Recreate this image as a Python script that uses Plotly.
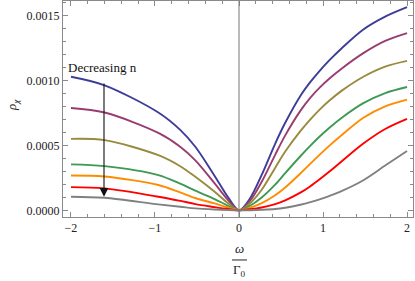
import plotly.graph_objects as go

# omega / Gamma_0 sample positions
omega = [-2, -1.6, -0.96, -0.7, -0.52, -0.29, -0.13, 0, 0.13, 0.27, 0.43, 0.55,
         0.73, 0.85, 0.96, 1.08, 1.22, 1.48, 1.74, 2]

# rho_chi (units of 1e-3) for each curve, top to bottom
blue   = [1.030, 0.964, 0.754, 0.620, 0.490, 0.265, 0.100, 0, 0.091, 0.273, 0.513, 0.675,
          0.882, 0.990, 1.076, 1.160, 1.248, 1.394, 1.493, 1.566]
purple = [0.789, 0.754, 0.597, 0.490, 0.385, 0.208, 0.079, 0, 0.072, 0.220, 0.428, 0.578,
          0.767, 0.869, 0.946, 1.018, 1.092, 1.212, 1.306, 1.366]
olive  = [0.551, 0.541, 0.425, 0.340, 0.258, 0.143, 0.054, 0, 0.054, 0.159, 0.327, 0.453,
          0.610, 0.701, 0.776, 0.848, 0.921, 1.030, 1.108, 1.152]
green  = [0.354, 0.341, 0.272, 0.205, 0.151, 0.087, 0.035, 0, 0.035, 0.099, 0.198, 0.287,
          0.417, 0.499, 0.569, 0.639, 0.712, 0.826, 0.904, 0.951]
orange = [0.269, 0.261, 0.195, 0.138, 0.095, 0.053, 0.022, 0, 0.020, 0.055, 0.116, 0.176,
          0.284, 0.360, 0.429, 0.501, 0.579, 0.714, 0.802, 0.854]
red    = [0.179, 0.169, 0.105, 0.073, 0.048, 0.025, 0.010, 0, 0.008, 0.022, 0.048, 0.077,
          0.136, 0.186, 0.239, 0.301, 0.377, 0.515, 0.627, 0.705]
gray   = [0.105, 0.097, 0.046, 0.028, 0.015, 0.006, 0.002, 0, 0.001, 0.004, 0.010, 0.020,
          0.043, 0.063, 0.085, 0.112, 0.148, 0.232, 0.345, 0.458]

series = [blue, purple, olive, green, orange, red, gray]
colors = ["#3D3D99", "#993D71", "#998B3D", "#3D9954", "#FF8C00", "#FF0000", "#808080"]

y_ticks = [0.0, 0.0005, 0.0010, 0.0015]
y_tick_labels = ["0.0000", "0.0005", "0.0010", "0.0015"]
x_ticks = [-2, -1, 0, 1, 2]
x_tick_labels = ["\u22122", "\u22121", "0", "1", "2"]

SERIF = 'Liberation Serif, "Times New Roman", Times, serif'

fig = go.Figure()
for s, c in zip(series, colors):
    fig.add_trace(go.Scatter(
        x=omega, y=[v * 1e-3 for v in s], mode="lines",
        line=dict(color=c, width=1.9, shape="spline", smoothing=0.9),
        showlegend=False, hoverinfo="skip"))

frame = "#8a8a8a"
font = dict(family=SERIF, size=12, color="#222")

fig.update_layout(
    width=415, height=281,
    margin=dict(l=63, r=2, t=1, b=64),
    paper_bgcolor="white", plot_bgcolor="white",
    font=font,
    xaxis=dict(range=[-2.095, 2.071], tickvals=x_ticks, ticktext=x_tick_labels,
               ticks="inside", ticklen=5, tickcolor=frame, tickwidth=1,
               showline=True, linecolor=frame, linewidth=1, mirror="ticks",
               showgrid=False, zeroline=False, automargin=False,
               minor=dict(dtick=0.2, tick0=0, ticks="inside", ticklen=3,
                          tickcolor=frame, showgrid=False)),
    yaxis=dict(range=[-0.0000515, 0.001614], tickvals=y_ticks, ticktext=y_tick_labels,
               ticks="inside", ticklen=5, tickcolor=frame, tickwidth=1,
               showline=True, linecolor=frame, linewidth=1, mirror="ticks",
               showgrid=False, zeroline=False, automargin=False,
               minor=dict(dtick=0.0001, tick0=0, ticks="inside", ticklen=3,
                          tickcolor=frame, showgrid=False)),
)

# vertical axis line at omega = 0
fig.add_vline(x=0, line=dict(color="#777777", width=1))

# y-axis label
fig.add_annotation(text="<i>\u03c1<sub>\u03c7</sub></i>", xref="paper", yref="paper",
                   x=-0.1457, y=0.518, xanchor="center", yanchor="middle",
                   showarrow=False, textangle=-90,
                   font=dict(family=SERIF, size=13, color="#222"))

# x-axis label as a fraction omega / Gamma_0
fig.add_annotation(text="<i>\u03c9</i>", xref="x", yref="paper", x=0, y=-0.145,
                   xanchor="center", yanchor="middle", showarrow=False,
                   font=dict(family=SERIF, size=13, color="#222"))
fig.add_annotation(text="\u0393<sub>0</sub>", xref="x", yref="paper", x=0, y=-0.247,
                   xanchor="center", yanchor="middle", showarrow=False,
                   font=dict(family=SERIF, size=13, color="#222"))
fig.add_shape(type="line", xref="x", yref="paper", x0=-0.083, x1=0.095,
              y0=-0.199, y1=-0.199, line=dict(color="#222", width=1))

# "Decreasing n" annotation with arrow
fig.add_annotation(text="Decreasing n", xref="x", yref="y", x=-1.63, y=0.0011,
                   xanchor="center", yanchor="middle", showarrow=False,
                   font=dict(family=SERIF, size=13, color="#111"))
fig.add_annotation(x=-1.607, y=0.000105, ax=-1.607, ay=0.000989,
                   xref="x", yref="y", axref="x", ayref="y", text="",
                   showarrow=True, arrowhead=2, arrowsize=1.6, arrowwidth=1.1,
                   arrowcolor="#111")

fig.write_html("out.html", config={"displayModeBar": False},
               post_script="document.body.style.margin='0';")
